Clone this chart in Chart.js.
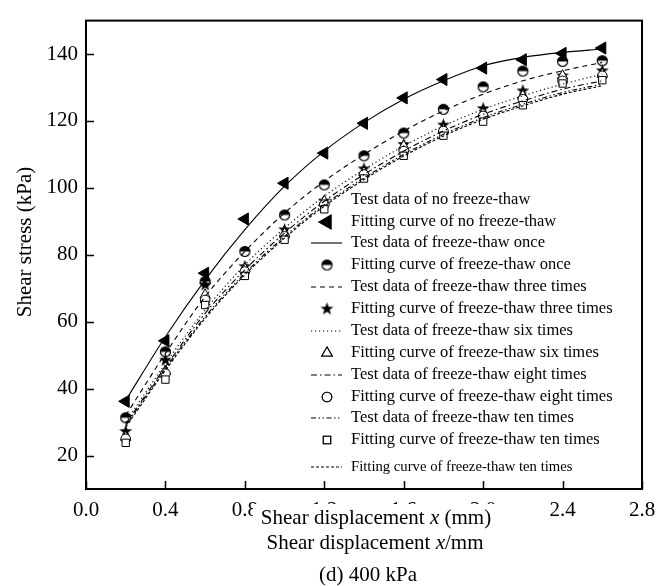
<!DOCTYPE html>
<html lang="en">
<head>
    <meta charset="UTF-8">
    <title>Shear stress vs shear displacement (400 kPa)</title>
    <style>
        body { margin: 0; background: #fff; }
        #wrap { width: 669px; height: 586px; }
    </style>
</head>
<body>
    <div id="wrap"><canvas id="shearChart" width="669" height="586"></canvas></div>

    <script src="https://cdn.jsdelivr.net/npm/chart.js"></script>
    <script>
        // shear displacement (mm)
        const xValues = [0.2, 0.4, 0.6, 0.8, 1.0, 1.2, 1.4, 1.6, 1.8, 2.0, 2.2, 2.4, 2.6];
        const xTicks = [0, 0.4, 0.8, 1.2, 1.6, 2.0, 2.4, 2.8];
        const yTicks = [20, 40, 60, 80, 100, 120, 140];

        // test data (kPa)
        const testNone  = [36.2, 54.3, 74.5, 90.7, 101.4, 110.4, 119.3, 126.9, 132.4, 135.8, 138.3, 140.2, 141.8];
        const testOnce  = [31.3, 51.0, 72.0, 81.0, 91.9, 100.9, 109.6, 116.4, 123.5, 130.2, 134.9, 137.8, 138.0];
        const testThree = [27.2, 48.5, 71.0, 76.5, 87.5, 96.1, 105.7, 113.0, 118.8, 123.7, 129.0, 133.5, 135.0];
        const testSix   = [25.5, 45.2, 68.0, 75.8, 86.3, 96.0, 104.6, 112.5, 117.4, 122.3, 127.5, 133.5, 134.0];
        const testEight = [25.0, 44.5, 66.5, 75.0, 85.5, 95.0, 104.0, 111.0, 117.0, 121.5, 126.5, 132.0, 133.5];
        const testTen   = [23.8, 42.7, 65.0, 73.7, 84.5, 93.6, 102.8, 109.6, 115.6, 119.8, 124.7, 131.2, 132.2];

        // fitting curves (kPa)
        const fitNone  = [36.5, 55.5, 72.5, 87.5, 100.5, 111.0, 119.5, 126.5, 132.0, 136.5, 139.0, 140.5, 141.5];
        const fitOnce  = [32.0, 50.5, 67.5, 81.0, 92.5, 102.0, 110.0, 117.0, 123.0, 128.0, 132.0, 135.0, 137.5];
        const fitThree = [30.0, 47.5, 63.5, 77.0, 88.0, 97.5, 105.5, 112.5, 118.5, 123.5, 127.5, 131.0, 134.0];
        const fitSix   = [29.5, 46.5, 62.5, 75.5, 86.5, 96.0, 104.0, 111.0, 117.0, 122.0, 126.0, 129.5, 132.0];
        const fitEight = [29.0, 46.0, 61.5, 74.5, 85.5, 95.0, 103.0, 110.0, 116.0, 121.0, 125.0, 128.5, 131.0];
        const fitTen   = [28.5, 45.5, 61.0, 74.0, 85.0, 94.5, 102.5, 109.5, 115.5, 120.5, 124.5, 128.0, 130.5];

        const legendLabels = [
            'Test data of no freeze-thaw',
            'Fitting curve of no freeze-thaw',
            'Test data of freeze-thaw once',
            'Fitting curve of freeze-thaw once',
            'Test data of freeze-thaw three times',
            'Fitting curve of freeze-thaw three times',
            'Test data of freeze-thaw six times',
            'Fitting curve of freeze-thaw six times',
            'Test data of freeze-thaw eight times',
            'Fitting curve of freeze-thaw eight times',
            'Test data of freeze-thaw ten times',
            'Fitting curve of freeze-thaw ten times',
            'Fitting curve of freeze-thaw ten times'
        ];

        const SERIF = '"Liberation Serif", "Times New Roman", serif';

        // small canvases used as point styles
        function makeMarker(size, draw) {
            const c = document.createElement('canvas');
            c.width = size; c.height = size;
            const g = c.getContext('2d');
            draw(g, size / 2);
            return c;
        }
        const halfCircle = makeMarker(13, function (g, m) {
            g.beginPath(); g.arc(m, m, 5, 0, Math.PI * 2); g.fillStyle = '#fff'; g.fill();
            g.beginPath(); g.arc(m, m, 5, Math.PI, 0); g.closePath(); g.fillStyle = '#000'; g.fill();
            g.beginPath(); g.arc(m, m, 5, 0, Math.PI * 2); g.lineWidth = 1.2; g.strokeStyle = '#000'; g.stroke();
        });
        const filledStar = makeMarker(15, function (g, m) {
            g.beginPath();
            for (let i = 0; i < 10; i++) {
                const r = i % 2 === 0 ? 6.8 : 2.8;
                const a = -Math.PI / 2 + i * Math.PI / 5;
                g.lineTo(m + r * Math.cos(a), m + r * Math.sin(a));
            }
            g.closePath(); g.fillStyle = '#000'; g.fill();
        });

        const pts = arr => xValues.map((x, i) => ({ x: x, y: arr[i] }));

        function markerSet(arr, style, extra) {
            return Object.assign({
                data: pts(arr), showLine: false, pointStyle: style,
                pointRadius: 5, pointBorderColor: '#000', pointBackgroundColor: '#fff',
                pointBorderWidth: 1
            }, extra || {});
        }
        function curveSet(arr, dash) {
            return {
                data: pts(arr), borderColor: '#000', borderWidth: 1.1, borderDash: dash,
                pointRadius: 0, cubicInterpolationMode: 'monotone', fill: false
            };
        }

        const dashes = {
            solid: [], dashed: [5, 4], dotted: [1.2, 2.8],
            dashDot: [6, 3, 1.5, 3], dashDotDot: [5, 2.5, 1.5, 2.5, 1.5, 2.5], shortDash: [3, 2]
        };

        const datasets = [
            curveSet(fitNone, dashes.solid),
            curveSet(fitOnce, dashes.dashed),
            curveSet(fitThree, dashes.dotted),
            curveSet(fitSix, dashes.dashDot),
            curveSet(fitEight, dashes.dashDotDot),
            curveSet(fitTen, dashes.shortDash),
            markerSet(testTen, 'rect', { pointRadius: 5.2 }),
            markerSet(testEight, 'circle', { pointRadius: 4.8 }),
            markerSet(testSix, 'triangle', { pointRadius: 6 }),
            markerSet(testThree, filledStar),
            markerSet(testOnce, halfCircle),
            markerSet(testNone, 'triangle', { pointRadius: 7, pointRotation: -90, pointBackgroundColor: '#000' })
        ];

        // legend rows: symbol kind, y position
        const legendRows = [
            { y: 200 },
            { y: 222, ds: 11 },
            { y: 243, dash: dashes.solid },
            { y: 265, ds: 10 },
            { y: 287, dash: dashes.dashed },
            { y: 309, ds: 9 },
            { y: 331, dash: dashes.dotted },
            { y: 353, ds: 8 },
            { y: 375, dash: dashes.dashDot },
            { y: 397, ds: 7 },
            { y: 418, dash: dashes.dashDotDot },
            { y: 440, ds: 6 },
            { y: 467, dash: dashes.shortDash, small: true }
        ];

        const decorPlugin = {
            id: 'decor',
            afterDraw(chart) {
                const ctx = chart.ctx;
                const a = chart.chartArea;
                const xs = chart.scales.x, ys = chart.scales.y;
                ctx.save();
                ctx.strokeStyle = '#000';
                ctx.setLineDash([]);

                // inward tick marks
                ctx.lineWidth = 1.5;
                ctx.beginPath();
                yTicks.forEach(v => {
                    const p = Math.round(ys.getPixelForValue(v)) + 0.5;
                    ctx.moveTo(a.left, p); ctx.lineTo(a.left + 8, p);
                });
                xTicks.forEach(v => {
                    const p = Math.round(xs.getPixelForValue(v)) + 0.5;
                    ctx.moveTo(p, a.bottom); ctx.lineTo(p, a.bottom - 8);
                });
                ctx.stroke();

                // frame
                ctx.lineWidth = 2;
                ctx.strokeRect(a.left, a.top, a.right - a.left, a.bottom - a.top);

                // legend
                ctx.fillStyle = '#000';
                ctx.textBaseline = 'middle';
                ctx.textAlign = 'left';
                legendRows.forEach((row, i) => {
                    ctx.font = (row.small ? '14.7px ' : '16.5px ') + SERIF;
                    ctx.fillText(legendLabels[i], 351, row.y);
                    if (row.dash) {
                        ctx.lineWidth = 1.1;
                        ctx.setLineDash(row.dash);
                        ctx.beginPath();
                        ctx.moveTo(311, row.y); ctx.lineTo(342, row.y);
                        ctx.stroke();
                        ctx.setLineDash([]);
                    } else if (row.ds !== undefined) {
                        const d = chart.data.datasets[row.ds];
                        Chart.helpers.drawPoint(ctx, {
                            pointStyle: d.pointStyle, rotation: d.pointRotation || 0,
                            radius: d.pointRadius, borderWidth: 1
                        }, 327, row.y);
                        // fill/stroke for vector styles
                        if (typeof d.pointStyle === 'string') {
                            ctx.fillStyle = d.pointBackgroundColor;
                            ctx.beginPath();
                            Chart.helpers.drawPoint(ctx, {
                                pointStyle: d.pointStyle, rotation: d.pointRotation || 0,
                                radius: d.pointRadius, borderWidth: 1
                            }, 327, row.y);
                            ctx.fillStyle = '#000';
                        }
                    }
                });

                // x-axis titles with white box over tick labels
                ctx.fillStyle = '#fff';
                ctx.fillRect(253, 504, 248, 26);
                ctx.fillStyle = '#000';
                ctx.textAlign = 'center';
                ctx.font = '21px ' + SERIF;
                drawTitle(ctx, 376, 518, 'Shear displacement ', 'x', ' (mm)');
                drawTitle(ctx, 375, 543, 'Shear displacement ', 'x', '/mm');
                ctx.font = '21px ' + SERIF;
                ctx.textAlign = 'center';
                ctx.fillText('(d) 400 kPa', 368, 575);

                // y-axis title
                ctx.translate(25, 242);
                ctx.rotate(-Math.PI / 2);
                ctx.font = '21px ' + SERIF;
                ctx.fillText('Shear stress (kPa)', 0, 0);
                ctx.restore();
            }
        };

        function drawTitle(ctx, cx, y, pre, it, post) {
            const normal = '21px ' + SERIF, italic = 'italic 21px ' + SERIF;
            ctx.font = normal; const w1 = ctx.measureText(pre).width, w3 = ctx.measureText(post).width;
            ctx.font = italic; const w2 = ctx.measureText(it).width;
            let x = cx - (w1 + w2 + w3) / 2;
            ctx.textAlign = 'left';
            ctx.font = normal; ctx.fillText(pre, x, y); x += w1;
            ctx.font = italic; ctx.fillText(it, x, y); x += w2;
            ctx.font = normal; ctx.fillText(post, x, y);
            ctx.textAlign = 'center';
        }

        new Chart(document.getElementById('shearChart'), {
            type: 'line',
            data: { datasets: datasets },
            options: {
                responsive: false,
                animation: false,
                layout: { padding: { top: 8, right: 27, left: 0, bottom: 0 } },
                plugins: { legend: { display: false }, tooltip: { enabled: false } },
                scales: {
                    x: {
                        type: 'linear', min: 0, max: 2.8,
                        afterFit: s => { s.height = 97; },
                        afterBuildTicks: s => { s.ticks = xTicks.map(v => ({ value: v })); },
                        grid: { display: false, drawTicks: false },
                        border: { display: false },
                        ticks: {
                            autoSkip: false, maxRotation: 0, padding: 9, color: '#000',
                            font: { family: SERIF, size: 21 },
                            callback: v => v.toFixed(1)
                        }
                    },
                    y: {
                        type: 'linear', min: 10, max: 150,
                        afterFit: s => { s.width = 86; },
                        afterBuildTicks: s => { s.ticks = yTicks.map(v => ({ value: v })); },
                        grid: { display: false, drawTicks: false },
                        border: { display: false },
                        ticks: {
                            autoSkip: false, padding: 8, color: '#000',
                            font: { family: SERIF, size: 21 }
                        }
                    }
                }
            },
            plugins: [decorPlugin]
        });
    </script>
</body>
</html>
